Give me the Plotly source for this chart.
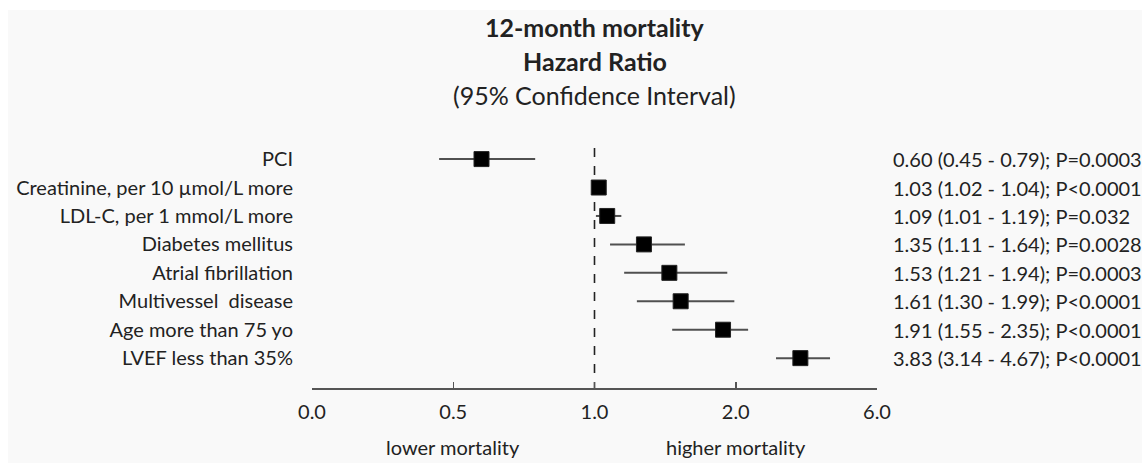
import numpy as np
import plotly.graph_objects as go

# ---- data ----
categories = [
    "PCI",
    "Creatinine, per 10 \u00b5mol/L more",
    "LDL-C, per 1 mmol/L more",
    "Diabetes mellitus",
    "Atrial fibrillation",
    "Multivessel  disease",
    "Age more than 75 yo",
    "LVEF less than 35%",
]
hr = [0.60, 1.03, 1.09, 1.35, 1.53, 1.61, 1.91, 3.83]
ci_low = [0.45, 1.02, 1.01, 1.11, 1.21, 1.30, 1.55, 3.14]
ci_high = [0.79, 1.04, 1.19, 1.64, 1.94, 1.99, 2.35, 4.67]
p_text = ["P=0.0003", "P<0.0001", "P=0.032", "P=0.0028", "P=0.0003",
          "P<0.0001", "P<0.0001", "P<0.0001"]
tick_values = [0.0, 0.5, 1.0, 2.0, 6.0]
tick_labels = ["0.0", "0.5", "1.0", "2.0", "6.0"]
reference_value = 1.0

# ---- piecewise-linear scale defined by the tick values ----
seg = np.arange(len(tick_values), dtype=float)
def scale(v):
    return np.interp(np.asarray(v, dtype=float), tick_values, seg)

x_hr = scale(hr)
x_lo = scale(ci_low)
x_hi = scale(ci_high)
rows = np.arange(len(categories))

FONT = "Lato, 'Open Sans', sans-serif"
TXT = "#222222"
FS = 20
W, H = 1142, 463
ML, MR, MT, MB = 312, 265, 148, 75
PW, PH = W - ML - MR, H - MT - MB

fig = go.Figure()
fig.add_trace(go.Scatter(
    x=x_hr, y=rows, mode="markers",
    marker=dict(symbol="square", size=15, color="black",
                line=dict(color="#222", width=1)),
    error_x=dict(type="data", symmetric=False,
                 array=x_hi - x_hr, arrayminus=x_hr - x_lo,
                 width=0, thickness=2, color="#505050"),
    showlegend=False, hoverinfo="skip",
))

# white frame strips (top and left) around the light-grey panel
fig.add_shape(type="rect", xref="paper", yref="paper",
              x0=-ML / PW, x1=1 + MR / PW, y0=1 + (MT - 10) / PH, y1=1 + MT / PH,
              fillcolor="white", line=dict(width=0), layer="below")
fig.add_shape(type="rect", xref="paper", yref="paper",
              x0=-ML / PW, x1=-(ML - 8) / PW, y0=-MB / PH, y1=1 + MT / PH,
              fillcolor="white", line=dict(width=0), layer="below")

# dashed reference line at HR = 1
fig.add_shape(type="line", x0=float(scale(reference_value)), x1=float(scale(reference_value)),
              y0=-0.39, y1=8.05, xref="x", yref="y",
              line=dict(color="#222", width=1.6, dash="dash"), layer="below")

# right-hand statistics text
for i in range(len(categories)):
    fig.add_annotation(
        x=1, xref="paper", xshift=14, y=int(rows[i]), yref="y",
        xanchor="left", yanchor="middle", showarrow=False,
        text=f"{hr[i]:.2f} ({ci_low[i]:.2f} - {ci_high[i]:.2f}); {p_text[i]}",
        font=dict(family=FONT, size=FS, color=TXT),
    )

# titles
titles = [("<b>12-month mortality</b>", 121), ("<b>Hazard Ratio</b>", 87),
          ("(95% Confidence Interval)", 53)]
for t, sh in titles:
    fig.add_annotation(x=float(scale(reference_value)), xref="x", y=1, yref="paper",
                       yshift=sh, yanchor="middle", showarrow=False, text=t,
                       font=dict(family=FONT, size=25, color=TXT))

# bottom direction labels
fig.add_annotation(x=float(scale(0.5)), xref="x", y=0, yref="paper", yshift=-59,
                   yanchor="middle", showarrow=False, text="lower mortality",
                   font=dict(family=FONT, size=FS, color=TXT))
fig.add_annotation(x=float(scale(2.0)), xref="x", y=0, yref="paper", yshift=-59,
                   yanchor="middle", showarrow=False, text="higher mortality",
                   font=dict(family=FONT, size=FS, color=TXT))

fig.update_layout(
    width=W, height=H,
    margin=dict(l=ML, r=MR, t=MT, b=MB),
    paper_bgcolor="#f9f9f9", plot_bgcolor="#f9f9f9",
    font=dict(family=FONT, size=FS, color=TXT),
    xaxis=dict(range=[seg[0], seg[-1]], tickvals=list(seg), ticktext=tick_labels,
               showgrid=False, zeroline=False, showline=True, linecolor="#555",
               linewidth=1.5, ticks="inside", ticklen=6, tickwidth=1.5, tickcolor="#555",
               ticklabelstandoff=5, fixedrange=True),
    yaxis=dict(range=[8.05, -0.39], tickvals=list(rows), ticktext=categories,
               showgrid=False, zeroline=False, showline=False, ticks="",
               ticklabelstandoff=18, fixedrange=True),
)

fig.write_html(
    "out.html",
    config={"displayModeBar": False, "staticPlot": True},
    post_script="document.documentElement.style.overflow='hidden';"
                "document.body.style.margin='0';document.body.style.overflow='hidden';",
)
